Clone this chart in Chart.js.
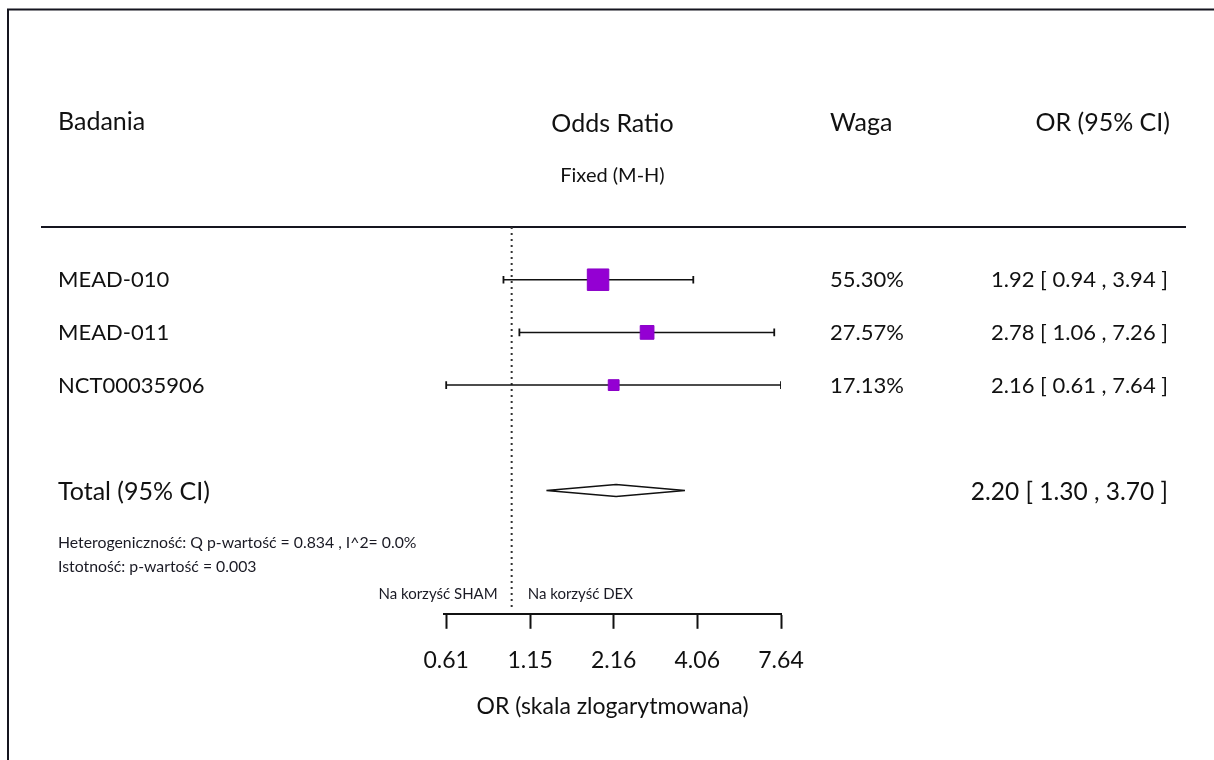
<!DOCTYPE html>
<html><head><meta charset="utf-8">
<script src="https://cdn.jsdelivr.net/npm/chart.js@4"></script>
<style>html,body{margin:0;padding:0;background:#fff;overflow:hidden}</style>
</head><body>
<canvas id="c" width="1214" height="760"></canvas>
<script>
// ---- data ----
const studies = ['MEAD-010', 'MEAD-011', 'NCT00035906'];
const oddsRatio = [1.92, 2.78, 2.16];
const ciLower = [0.94, 1.06, 0.61];
const ciUpper = [3.94, 7.26, 7.64];
const weights = [55.30, 27.57, 17.13];
const totalLabel = 'Total (95% CI)';
const totalEstimate = [2.20];
const totalLower = [1.30];
const totalUpper = [3.70];
const tickValues = [0.61, 1.15, 2.16, 4.06, 7.64];
const headers = ['Badania', 'Odds Ratio', 'Waga', 'OR (95% CI)'];
const subHeader = 'Fixed (M-H)';
const heterogeneityText = 'Heterogeniczność: Q p-wartość = 0.834 , I^2= 0.0%';
const significanceText = 'Istotność: p-wartość = 0.003';
const favoursLeft = 'Na korzyść SHAM';
const favoursRight = 'Na korzyść DEX';
const axisTitle = 'OR (skala zlogarytmowana)';

// ---- layout helpers ----
const FONT = 'Lato, "Open Sans", sans-serif';
const totalRow = studies.length + 2;
const rowOf = i => i + 1;
const fmt = v => v.toFixed(2);
const ciText = (e, l, u) => `${fmt(e)} [ ${fmt(l)} , ${fmt(u)} ]`;
const squareRadius = w => (6 + 0.28 * w) / Math.SQRT2;

const ciDatasets = studies.map((s, i) => ({
  type: 'line',
  label: s + ' CI',
  data: [{x: ciLower[i], y: rowOf(i)}, {x: ciUpper[i], y: rowOf(i)}],
  borderColor: '#111',
  borderWidth: 1.5,
  pointStyle: 'line',
  rotation: 90,
  pointRadius: 3.8,
  pointBorderWidth: 1.8,
  pointBorderColor: '#111',
  order: 2
}));

const squares = {
  type: 'scatter',
  label: 'OR',
  data: studies.map((s, i) => ({x: oddsRatio[i], y: rowOf(i)})),
  pointStyle: 'rect',
  pointRadius: weights.map(squareRadius),
  backgroundColor: '#9400D3',
  borderColor: '#8a00c8',
  borderWidth: 1,
  order: 0
};

const DH = 0.115;
const diamond = {
  type: 'line',
  label: 'Total',
  data: [
    {x: totalLower[0], y: totalRow},
    {x: totalEstimate[0], y: totalRow - DH},
    {x: totalUpper[0], y: totalRow},
    {x: totalEstimate[0], y: totalRow + DH},
    {x: totalLower[0], y: totalRow}
  ],
  borderColor: '#111',
  borderWidth: 1.5,
  pointRadius: 0,
  tension: 0,
  order: 1
};

const refLine = {
  type: 'line',
  label: 'ref',
  data: [{x: 1, y: 0}, {x: 1, y: 7.26}],
  borderColor: '#333',
  borderWidth: 2,
  borderDash: [2, 4],
  pointRadius: 0,
  order: 3
};

const decor = {
  id: 'decor',
  beforeDraw(chart) {
    const ctx = chart.ctx;
    ctx.save();
    ctx.fillStyle = '#fff';
    ctx.fillRect(0, 0, chart.width, chart.height);
    ctx.strokeStyle = '#15151f';
    ctx.lineWidth = 2;
    ctx.strokeRect(8, 9.5, 1400, 1000);
    ctx.lineWidth = 2;
    ctx.beginPath();
    ctx.moveTo(41, chart.chartArea.top);
    ctx.lineTo(1186, chart.chartArea.top);
    ctx.stroke();
    ctx.restore();
  },
  afterDraw(chart) {
    const ctx = chart.ctx;
    const xs = chart.scales.x, ys = chart.scales.y;
    ctx.save();
    ctx.fillStyle = '#111';
    ctx.textBaseline = 'alphabetic';
    const txt = (t, x, y, size, align) => {
      ctx.font = `${size}px ${FONT}`;
      ctx.textAlign = align || 'left';
      ctx.fillText(t, x, y);
    };
    const mid = (xs.left + xs.right) / 2;
    txt(headers[0], 58, 130, 25);
    txt(headers[1], mid, 132, 25, 'center');
    txt(headers[2], 830, 131, 25);
    txt(headers[3], 1170, 131, 25, 'right');
    txt(subHeader, mid, 182, 20, 'center');
    studies.forEach((s, i) => {
      const y = ys.getPixelForValue(rowOf(i)) + 7.5;
      txt(s, 58, y, 22);
      txt(fmt(weights[i]) + '%', 830, y, 22);
      txt(ciText(oddsRatio[i], ciLower[i], ciUpper[i]), 1168, y, 22, 'right');
    });
    const ty = ys.getPixelForValue(totalRow) + 10;
    txt(totalLabel, 58, ty, 25);
    txt(ciText(totalEstimate[0], totalLower[0], totalUpper[0]), 1168, ty, 24.5, 'right');
    ctx.fillStyle = '#1a1a24';
    txt(heterogeneityText, 58, 548, 15.8);
    txt(significanceText, 58, 572, 15.8);
    const x1 = xs.getPixelForValue(1);
    txt(favoursLeft, x1 - 14, 599, 15, 'right');
    txt(favoursRight, x1 + 16, 599, 15, 'left');
    ctx.restore();
  }
};

new Chart(document.getElementById('c'), {
  data: {datasets: [squares, diamond, ...ciDatasets, refLine]},
  options: {
    responsive: false,
    animation: false,
    devicePixelRatio: 1,
    layout: {padding: {left: 444, right: 433, top: 227, bottom: 36}},
    plugins: {legend: {display: false}, tooltip: {enabled: false}},
    scales: {
      x: {
        type: 'logarithmic',
        min: tickValues[0],
        max: tickValues[tickValues.length - 1],
        afterBuildTicks: sc => { sc.ticks = tickValues.map(v => ({value: v})); },
        ticks: {
          callback: v => fmt(v),
          font: {size: 23, family: FONT},
          color: '#111',
          padding: 18,
          maxRotation: 0,
          autoSkip: false
        },
        grid: {drawOnChartArea: false, drawTicks: true, tickLength: 15, tickWidth: 2, tickColor: '#111'},
        border: {display: true, color: '#111', width: 2},
        title: {display: true, text: axisTitle, font: {size: 23, family: FONT}, color: '#111', padding: {top: 0, bottom: 4}}
      },
      y: {
        type: 'linear',
        display: false,
        reverse: true,
        min: 0,
        max: 7.34
      }
    }
  },
  plugins: [decor]
});
</script>
</body></html>
